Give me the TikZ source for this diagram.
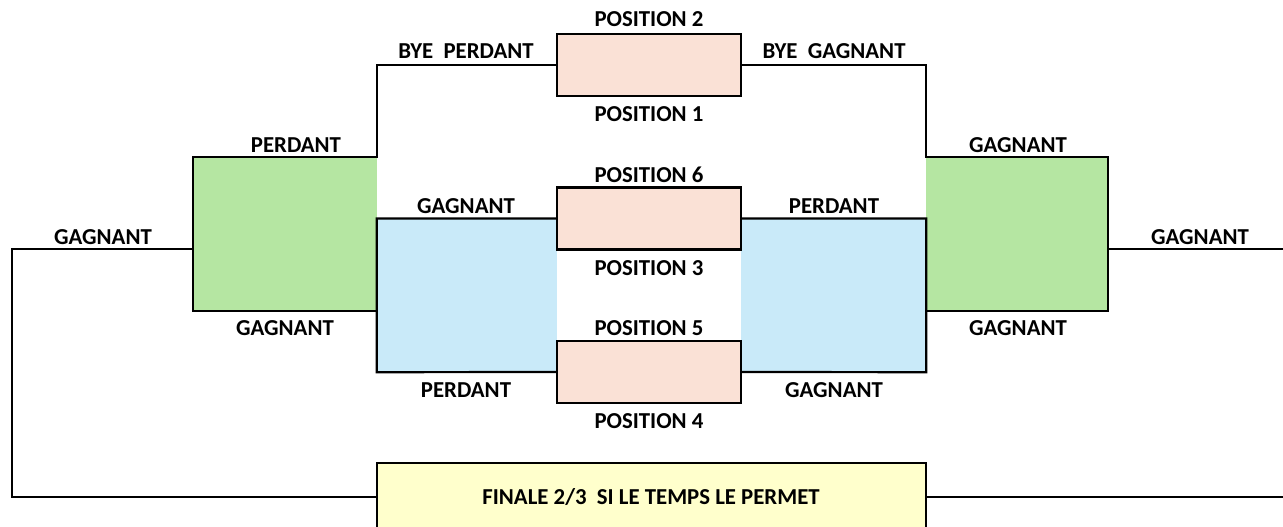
\documentclass[tikz,border=0pt]{standalone}
\usepackage{fontspec}
\setmainfont{Carlito}
\usetikzlibrary{positioning}

\definecolor{vert}{RGB}{181,230,162}
\definecolor{bleu}{RGB}{201,234,249}
\definecolor{rose}{RGB}{250,225,214}
\definecolor{jaune}{RGB}{255,255,204}

\tikzset{
  lbl/.style={font=\fontsize{22.8}{27}\selectfont\bfseries, inner sep=0pt},
  zone/.style={rectangle, inner sep=0pt, draw=none},
  poste/.style={rectangle, inner sep=0pt, fill=rose, draw, line width=2.2pt,
    minimum width=184pt, minimum height=62pt},
  trait/.style={line width=2.2pt},
}

\begin{document}
\begin{tikzpicture}[x=1pt,y=-1pt]

\useasboundingbox (0,0) rectangle (1283,527);

\node [zone, fill=vert, minimum width=184pt, minimum height=154pt] (GL) at (285,234) {};
\node [zone, fill=vert, minimum width=182pt, minimum height=154pt] (GR) at (1017,234) {};
\node [zone, fill=bleu, minimum width=180pt, minimum height=153pt] (BL) at (467,295.5) {};
\node [zone, fill=bleu, minimum width=185pt, minimum height=153pt] (BR) at (833.5,295.5) {};
\node [zone, fill=jaune, minimum width=549pt, minimum height=68pt] (FIN) at (651.5,497) {};

\node [poste] (P2) at (649,65) {};
\node [poste] (P6) at (649,218.5) {};
\node [poste] (P5) at (649,372) {};

\coordinate (gaL) at (193,249);
\coordinate (coinG) at (12,400);
\coordinate (gaR) at (1108,249);
\coordinate (bordR) at (1290,249);
\coordinate (finR) at (1290,497);

\draw [trait] (P2.west) -| (GL.north east) -- (GL.north west) -- (GL.south west) -- (GL.south east);
\draw [trait] (P2.east) -| (GR.north west) -- (GR.north east) -- (GR.south east) -- (GR.south west);
\draw [trait] (P6.west) -| (BL.south west) -- (P5.west);
\draw [trait] (P6.east) -| (BR.south east) -- (P5.east);
\draw [trait] (gaL) -| (coinG) |- (FIN.west);
\draw [trait] (gaR) -- (bordR);
\draw [trait] (FIN.east) -- (finR);
\draw [trait] (FIN.south west) -- (FIN.north west) -- (FIN.north east) -- (FIN.south east);

\node [lbl] (tP2) at (649,19) {POSITION 2};
\node [lbl] (tP1) at (649,114) {POSITION 1};
\node [lbl] (tP6) at (649,175) {POSITION 6};
\node [lbl] (tP3) at (649,268) {POSITION 3};
\node [lbl] (tP5) at (649,328) {POSITION 5};
\node [lbl] (tP4) at (649,421) {POSITION 4};

\node [lbl] (tByeP) at (466,51) {BYE~~PERDANT};
\node [lbl] (tByeG) at (834,51) {BYE~~GAGNANT};
\node [lbl] (tPerdGL) at (296,145) {PERDANT};
\node [lbl] (tGagGR) at (1018,145) {GAGNANT};
\node [lbl] (tGagBL) at (466,206) {GAGNANT};
\node [lbl] (tPerdBR) at (834,206) {PERDANT};
\node [lbl] (tGagL) at (103,237) {GAGNANT};
\node [lbl] (tGagR) at (1200,237) {GAGNANT};
\node [lbl] (tGagGLb) at (285,328) {GAGNANT};
\node [lbl] (tGagGRb) at (1018,328) {GAGNANT};
\node [lbl] (tPerdBLb) at (466,390) {PERDANT};
\node [lbl] (tGagBRb) at (834,390) {GAGNANT};

\node [lbl] (tFin) at (651,497) {FINALE 2/3~~SI LE TEMPS LE PERMET};

\end{tikzpicture}
\end{document}
